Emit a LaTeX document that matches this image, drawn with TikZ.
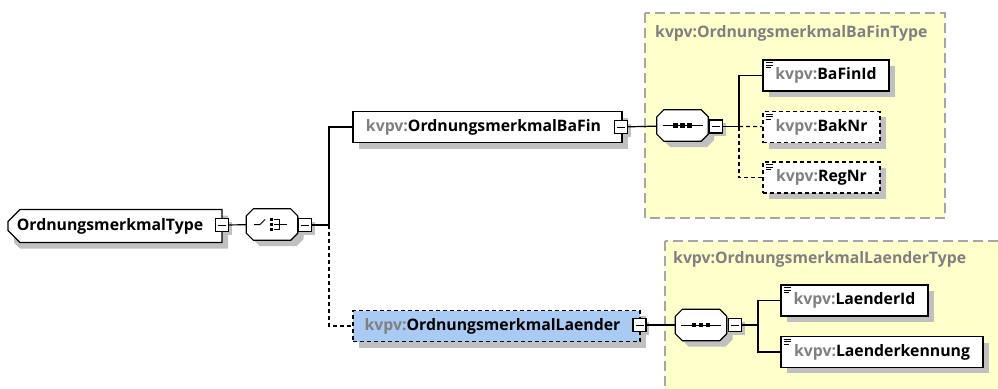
\documentclass[tikz,border=0pt]{standalone}
\usepackage{fontspec}
\setmainfont{Open Sans}
\usetikzlibrary{shapes.misc,positioning}
\pgfdeclarelayer{back}
\pgfsetlayers{back,main}
\definecolor{nsgray}{HTML}{808080}
\definecolor{typefill}{HTML}{FFFFCC}
\definecolor{typeline}{HTML}{A6A6A6}
\definecolor{optfill}{HTML}{A9CAF2}
\definecolor{dropgray}{HTML}{C0C0C0}
\newcommand{\kvpv}[1]{\textcolor{nsgray}{kvpv:}#1}
\tikzset{
  basic/.style    = {draw, line width=1.2pt, fill=white, inner sep=0pt,
                     font=\bfseries\fontsize{15.8}{18}\selectfont, rectangle},
  root/.style     = {basic, chamfered rectangle,
                     chamfered rectangle corners={north west,south west},
                     chamfered rectangle sep=6pt,
                     minimum width=214pt, minimum height=33pt},
  elem/.style     = {basic, minimum height=31pt},
  optional/.style = {elem, dash pattern=on 4pt off 3pt},
  textelem/.style = {path picture={
      \foreach \dy/\len in {2.5/7,5/7,7.5/5}
        \draw[black, solid, line width=0.9pt]
          ([xshift=3pt,yshift=-\dy pt]path picture bounding box.north west)
          -- ++(\len pt,0);}},
  compnode/.style = {rectangle, inner sep=0pt, minimum width=51pt,
                     minimum height=31pt},
  compline/.style = {draw, fill=white, line width=1.2pt},
  minus/.style    = {draw, line width=1.2pt, fill=white, minimum size=13pt,
                     inner sep=0pt,
                     path picture={\draw[black, solid, line width=1pt]
                       ([xshift=2.5pt]path picture bounding box.west) --
                       ([xshift=-2.5pt]path picture bounding box.east);}},
  typebox/.style  = {draw=typeline, fill=typefill, line width=1.2pt,
                     dash pattern=on 10pt off 5pt},
  typetitle/.style = {font=\bfseries\fontsize{15.8}{18}\selectfont, text=nsgray,
                     anchor=west, inner sep=0pt},
  conn/.style     = {line width=1.2pt},
  optconn/.style  = {conn, dash pattern=on 4pt off 3pt}
}
% octagon round a compositor node
\newcommand{\octpath}[1]{([xshift=7pt]#1.north west) -- ([xshift=-7pt]#1.north east)
  -- ([yshift=-7pt]#1.north east) -- ([yshift=7pt]#1.south east)
  -- ([xshift=-7pt]#1.south east) -- ([xshift=7pt]#1.south west)
  -- ([yshift=7pt]#1.south west) -- ([yshift=-7pt]#1.north west) -- cycle}

\begin{document}
\begin{tikzpicture}[x=1pt, y=-1pt]
\useasboundingbox (0,0) rectangle (998,388);

% the two complex types in the background
\begin{pgfonlayer}{back}
  \begin{scope}
    \clip (0,0) rectangle (998,388);
    \draw[typebox] (645,13) rectangle (945,218);
    \draw[typebox] (665,241) rectangle (1010,400);
  \end{scope}
\end{pgfonlayer}
\node[typetitle] (t1) at (655,33) {\kvpv{OrdnungsmerkmalBaFinType}};
\node[typetitle] (t2) at (673,259) {\kvpv{OrdnungsmerkmalLaenderType}};

% shadows, placed by the boxes they belong to
\fill[dropgray] (20,215.5) -- (228,215.5) -- (228,248.5) -- (20,248.5)
  -- (14,242.5) -- (14,221.5) -- cycle;
\foreach \x/\y/\w/\h in {359/117.5/269/31, 769/66/126/31, 769/117/117/32,
                         769/168/117/31, 359/316/287/32, 787/291/147/31,
                         787/343/202/30}
  \fill[dropgray] (\x,\y) rectangle ++(\w,\h);
\foreach \cx/\cy in {272/224.5, 682.5/125.5, 701/325}
  \fill[dropgray, shift={(\cx+6,\cy+6)}] (-18.5,-15.5) -- (18.5,-15.5)
    -- (25.5,-8.5) -- (25.5,8.5) -- (18.5,15.5) -- (-18.5,15.5)
    -- (-25.5,8.5) -- (-25.5,-8.5) -- cycle;
\foreach \cx/\cy in {222/225, 305/225, 621/127, 716/126.5, 639.5/325, 735/325}
  \fill[dropgray] (\cx-3.5,\cy-3.5) rectangle ++(13,13);

% root element and its choice
\node[root] (root) at (115,226) {OrdnungsmerkmalType\hspace*{10pt}};
\node[minus] (m0) at (222,225) {};
\node[compnode] (choice) at (272,224.5) {};
\path[compline] \octpath{choice};
\begin{scope}[shift={(choice.center)}, line width=1pt]
  \draw (-18,0) -- (-12,0) -- (-7,-5);
  \foreach \yy in {-5,0,5}
    \fill (-2.3,\yy-1.8) rectangle ++(3.6,3.6);
  \draw (2,-5) -- (7,-5) -- (7,5) -- (2,5) (2,0) -- (15,0);
\end{scope}
\node[minus] (m1) at (305,225) {};
\coordinate (b1) at (329,225);

% first alternative
\node[elem, minimum width=269pt] (bafin) at (487.5,127)
  {\kvpv{OrdnungsmerkmalBaFin}\hspace*{8pt}};
\node[minus] (m2) at (621,127) {};
\node[compnode] (seq1) at (682.5,125.5) {};
\path[compline] \octpath{seq1};
\begin{scope}[shift={(seq1.center)}, line width=1pt]
  \draw (-20,0) -- (20,0);
  \foreach \xx in {-7,0,7}
    \fill (\xx-2.2,-2.2) rectangle ++(4.4,4.4);
\end{scope}
\node[minus] (m3) at (716,126.5) {};
\coordinate (b2) at (739,126.5);
\node[elem, textelem, minimum width=126pt] (bafinid) at (826,75.5)
  {\kvpv{BaFinId}};
\node[optional, textelem, minimum width=117pt] (baknr) at (821.5,127)
  {\kvpv{BakNr}};
\node[optional, textelem, minimum width=117pt] (regnr) at (821.5,177.5)
  {\kvpv{RegNr}};

% second alternative
\node[optional, fill=optfill, minimum width=287pt] (laender) at (496.5,326)
  {\kvpv{OrdnungsmerkmalLaender}\hspace*{8pt}};
\node[minus] (m4) at (639.5,325) {};
\node[compnode] (seq2) at (701,325) {};
\path[compline] \octpath{seq2};
\begin{scope}[shift={(seq2.center)}, line width=1pt]
  \draw (-20,0) -- (20,0);
  \foreach \xx in {-7,0,7}
    \fill (\xx-2.2,-2.2) rectangle ++(4.4,4.4);
\end{scope}
\node[minus] (m5) at (735,325) {};
\coordinate (b3) at (758,325);
\node[elem, textelem, minimum width=147pt] (laenderid) at (854.5,300.5)
  {\kvpv{LaenderId}};
\node[elem, textelem, minimum width=202pt] (laenderkennung) at (882,352)
  {\kvpv{Laenderkennung}};

% connectors
\draw[conn] (m0) -- (choice);
\draw[conn] (m1) -- (b1) |- (bafin);
\draw[optconn] (b1) |- (laender);
\draw[conn] (m2) -- (seq1);
\draw[conn] (m3) -- (b2) |- (bafinid);
\draw[optconn] (b2) -- (baknr);
\draw[optconn] (b2) |- (regnr);
\draw[conn] (m4) -- (seq2);
\draw[conn] (m5) -- (b3) |- (laenderid);
\draw[conn] (b3) |- (laenderkennung);

\end{tikzpicture}
\end{document}
